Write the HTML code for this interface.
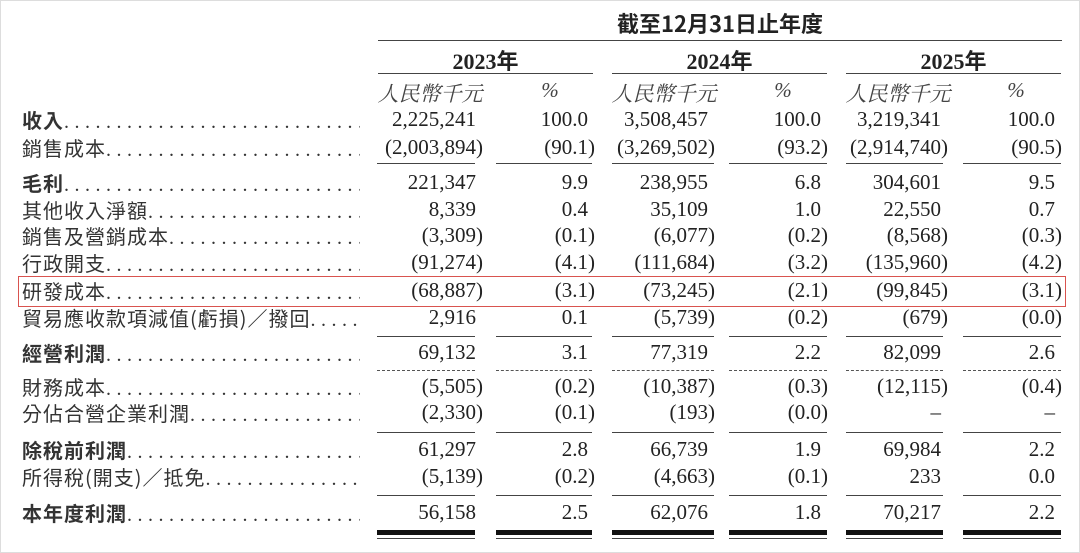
<!DOCTYPE html>
<html><head><meta charset="utf-8"><style>
body{margin:0;width:1080px;height:553px;background:#fff;overflow:hidden;position:relative;font-family:"Liberation Serif","Noto Serif CJK TC",serif;color:#222}
.r{position:absolute;left:0;width:1080px;height:27px;font-size:21px;line-height:27px}
.l{position:absolute;left:22px;width:338px;white-space:nowrap;overflow:hidden;font-family:"Noto Sans CJK TC",sans-serif;font-size:20px;letter-spacing:1px;color:#333}
.l b{font-weight:700}
.l i{font-style:normal;letter-spacing:5.5px;font-family:"Liberation Serif",serif}
.n{position:absolute;text-align:right;white-space:nowrap}
.p{padding-right:7px}
.a1{right:597px}.b1{right:485px}.a2{right:365px}.b2{right:252px}.a3{right:132px}.b3{right:18px}
.ln{position:absolute;height:0;border-top:1.5px solid #444}
.ds{position:absolute;height:0;border-top:1.5px dashed #555}
.h{position:absolute;font-weight:bold;font-size:22px;text-align:center;font-family:"Liberation Serif","Noto Sans CJK TC",serif}
.s{position:absolute;font-style:italic;font-size:21px;color:#444;text-align:center;font-family:"Liberation Serif","Noto Serif CJK TC",serif}
</style></head><body>
<div style="position:absolute;left:0;top:0;width:1078px;height:551px;border:1px solid #ddd"></div>
<div class="h" style="left:378px;width:684px;top:7px;font-family:'Noto Sans CJK TC',sans-serif">截至12月31日止年度</div>
<div class="ln" style="left:378px;width:684px;top:40px"></div>
<div class="h" style="left:378px;width:215px;top:44px">2023年</div>
<div class="h" style="left:612px;width:215px;top:44px">2024年</div>
<div class="h" style="left:846px;width:215px;top:44px">2025年</div>
<div class="ln" style="left:378px;width:215px;top:73px"></div>
<div class="ln" style="left:612px;width:215px;top:73px"></div>
<div class="ln" style="left:846px;width:215px;top:73px"></div>
<div class="s" style="left:370px;width:120px;top:78px">人民幣千元</div><div class="s" style="left:530px;width:40px;top:78px">%</div>
<div class="s" style="left:604px;width:120px;top:78px">人民幣千元</div><div class="s" style="left:763px;width:40px;top:78px">%</div>
<div class="s" style="left:838px;width:120px;top:78px">人民幣千元</div><div class="s" style="left:996px;width:40px;top:78px">%</div>

<div class="r" style="top:106px"><div class="l"><b>收入</b><i>.........................................</i></div><span class="n a1 p">2,225,241</span><span class="n b1 p">100.0</span><span class="n a2 p">3,508,457</span><span class="n b2 p">100.0</span><span class="n a3 p">3,219,341</span><span class="n b3 p">100.0</span></div>
<div class="r" style="top:134px"><div class="l">銷售成本<i>.........................................</i></div><span class="n a1">(2,003,894)</span><span class="n b1">(90.1)</span><span class="n a2">(3,269,502)</span><span class="n b2">(93.2)</span><span class="n a3">(2,914,740)</span><span class="n b3">(90.5)</span></div>
<div class="r" style="top:169px"><div class="l"><b>毛利</b><i>.........................................</i></div><span class="n a1 p">221,347</span><span class="n b1 p">9.9</span><span class="n a2 p">238,955</span><span class="n b2 p">6.8</span><span class="n a3 p">304,601</span><span class="n b3 p">9.5</span></div>
<div class="r" style="top:196px"><div class="l">其他收入淨額<i>.........................................</i></div><span class="n a1 p">8,339</span><span class="n b1 p">0.4</span><span class="n a2 p">35,109</span><span class="n b2 p">1.0</span><span class="n a3 p">22,550</span><span class="n b3 p">0.7</span></div>
<div class="r" style="top:222px"><div class="l">銷售及營銷成本<i>.........................................</i></div><span class="n a1">(3,309)</span><span class="n b1">(0.1)</span><span class="n a2">(6,077)</span><span class="n b2">(0.2)</span><span class="n a3">(8,568)</span><span class="n b3">(0.3)</span></div>
<div class="r" style="top:249px"><div class="l">行政開支<i>.........................................</i></div><span class="n a1">(91,274)</span><span class="n b1">(4.1)</span><span class="n a2">(111,684)</span><span class="n b2">(3.2)</span><span class="n a3">(135,960)</span><span class="n b3">(4.2)</span></div>
<div class="r" style="top:277px"><div class="l">研發成本<i>.........................................</i></div><span class="n a1">(68,887)</span><span class="n b1">(3.1)</span><span class="n a2">(73,245)</span><span class="n b2">(2.1)</span><span class="n a3">(99,845)</span><span class="n b3">(3.1)</span></div>
<div class="r" style="top:304px"><div class="l">貿易應收款項減值(虧損)／撥回<i>.........................................</i></div><span class="n a1 p">2,916</span><span class="n b1 p">0.1</span><span class="n a2">(5,739)</span><span class="n b2">(0.2)</span><span class="n a3">(679)</span><span class="n b3">(0.0)</span></div>
<div class="r" style="top:339px"><div class="l"><b>經營利潤</b><i>.........................................</i></div><span class="n a1 p">69,132</span><span class="n b1 p">3.1</span><span class="n a2 p">77,319</span><span class="n b2 p">2.2</span><span class="n a3 p">82,099</span><span class="n b3 p">2.6</span></div>
<div class="r" style="top:373px"><div class="l">財務成本<i>.........................................</i></div><span class="n a1">(5,505)</span><span class="n b1">(0.2)</span><span class="n a2">(10,387)</span><span class="n b2">(0.3)</span><span class="n a3">(12,115)</span><span class="n b3">(0.4)</span></div>
<div class="r" style="top:399px"><div class="l">分佔合營企業利潤<i>.........................................</i></div><span class="n a1">(2,330)</span><span class="n b1">(0.1)</span><span class="n a2">(193)</span><span class="n b2">(0.0)</span><span class="n a3 p">–</span><span class="n b3 p">–</span></div>
<div class="r" style="top:436px"><div class="l"><b>除稅前利潤</b><i>.........................................</i></div><span class="n a1 p">61,297</span><span class="n b1 p">2.8</span><span class="n a2 p">66,739</span><span class="n b2 p">1.9</span><span class="n a3 p">69,984</span><span class="n b3 p">2.2</span></div>
<div class="r" style="top:463px"><div class="l">所得稅(開支)／抵免<i>.........................................</i></div><span class="n a1">(5,139)</span><span class="n b1">(0.2)</span><span class="n a2">(4,663)</span><span class="n b2">(0.1)</span><span class="n a3 p">233</span><span class="n b3 p">0.0</span></div>
<div class="r" style="top:499px"><div class="l"><b>本年度利潤</b><i>.........................................</i></div><span class="n a1 p">56,158</span><span class="n b1 p">2.5</span><span class="n a2 p">62,076</span><span class="n b2 p">1.8</span><span class="n a3 p">70,217</span><span class="n b3 p">2.2</span></div>

<div style="position:absolute;left:18px;top:276px;width:1046px;height:29px;border:1.5px solid #d9534f"></div>

<div class="ln" style="left:377px;width:98px;top:163px"></div><div class="ln" style="left:496px;width:96px;top:163px"></div><div class="ln" style="left:612px;width:102px;top:163px"></div><div class="ln" style="left:729px;width:98px;top:163px"></div><div class="ln" style="left:846px;width:97px;top:163px"></div><div class="ln" style="left:963px;width:98px;top:163px"></div>
<div class="ln" style="left:377px;width:98px;top:336px"></div><div class="ln" style="left:496px;width:96px;top:336px"></div><div class="ln" style="left:612px;width:102px;top:336px"></div><div class="ln" style="left:729px;width:98px;top:336px"></div><div class="ln" style="left:846px;width:97px;top:336px"></div><div class="ln" style="left:963px;width:98px;top:336px"></div>
<div class="ds" style="left:377px;width:98px;top:370px"></div><div class="ds" style="left:496px;width:96px;top:370px"></div><div class="ds" style="left:612px;width:102px;top:370px"></div><div class="ds" style="left:729px;width:98px;top:370px"></div><div class="ds" style="left:846px;width:97px;top:370px"></div><div class="ds" style="left:963px;width:98px;top:370px"></div>
<div class="ln" style="left:377px;width:98px;top:432px"></div><div class="ln" style="left:496px;width:96px;top:432px"></div><div class="ln" style="left:612px;width:102px;top:432px"></div><div class="ln" style="left:729px;width:98px;top:432px"></div><div class="ln" style="left:846px;width:97px;top:432px"></div><div class="ln" style="left:963px;width:98px;top:432px"></div>
<div class="ln" style="left:377px;width:98px;top:495px"></div><div class="ln" style="left:496px;width:96px;top:495px"></div><div class="ln" style="left:612px;width:102px;top:495px"></div><div class="ln" style="left:729px;width:98px;top:495px"></div><div class="ln" style="left:846px;width:97px;top:495px"></div><div class="ln" style="left:963px;width:98px;top:495px"></div>
<div style="position:absolute;top:530px;left:0">
<div class="ln" style="left:377px;width:98px;border-top-width:5px;border-color:#111"></div><div class="ln" style="left:496px;width:96px;border-top-width:5px;border-color:#111"></div><div class="ln" style="left:612px;width:102px;border-top-width:5px;border-color:#111"></div><div class="ln" style="left:729px;width:98px;border-top-width:5px;border-color:#111"></div><div class="ln" style="left:846px;width:97px;border-top-width:5px;border-color:#111"></div><div class="ln" style="left:963px;width:98px;border-top-width:5px;border-color:#111"></div>
</div>
<div style="position:absolute;top:538px;left:0">
<div class="ln" style="left:377px;width:98px"></div><div class="ln" style="left:496px;width:96px"></div><div class="ln" style="left:612px;width:102px"></div><div class="ln" style="left:729px;width:98px"></div><div class="ln" style="left:846px;width:97px"></div><div class="ln" style="left:963px;width:98px"></div>
</div>
</body></html>
